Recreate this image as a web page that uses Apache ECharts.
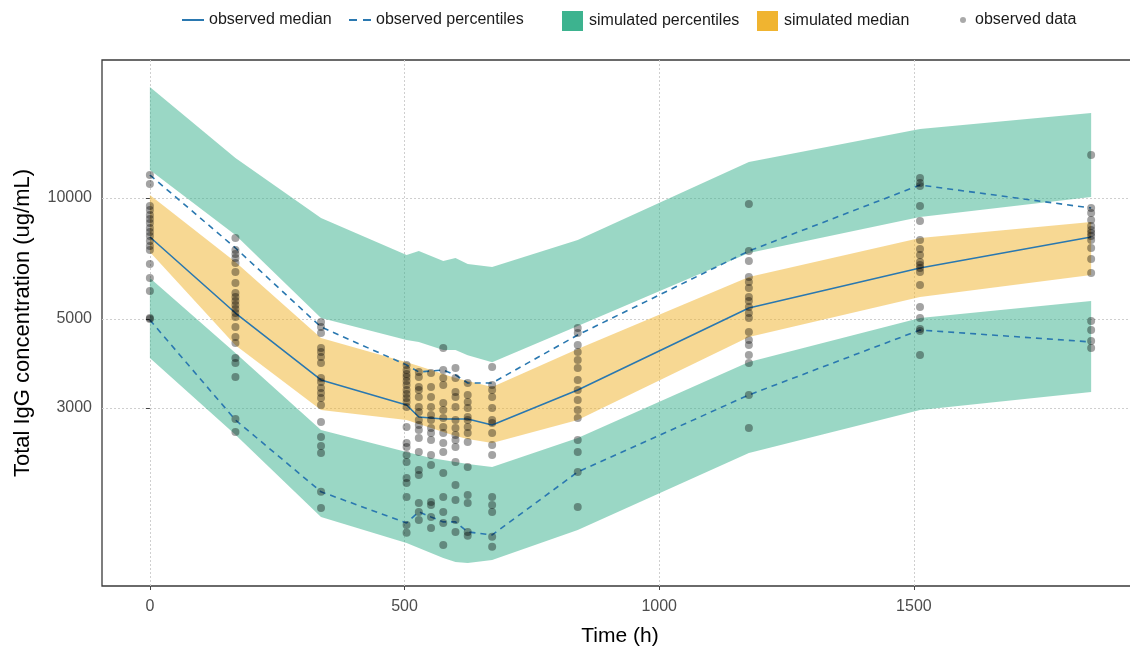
<!DOCTYPE html>
<html><head><meta charset="utf-8">
<script src="https://cdn.jsdelivr.net/npm/echarts@6/dist/echarts.min.js"></script>
<style>html,body{margin:0;padding:0;background:#fff}#c{width:1130px;height:648px}</style>
</head><body><div id="c"></div>
<script>
// Time points (h)
const times = [0,168,336,504,528,552,576,600,624,672,840,1176,1512,1848];
// Simulated 95th percentile band (CI)
const simHiTop = [18900,12580,8920,7210,7380,7170,6970,7090,6850,6730,7860,12290,14850,16280];
const simHiBot = [11740,8090,5025,4430,4380,4280,4180,4180,4060,3900,4800,7290,8970,10060];
// Simulated median band (CI)
const simMedTop = [10170,6930,4480,3900,3815,3730,3645,3560,3500,3380,4207,6355,7950,8715];
const simMedBot = [7340,4300,2965,2800,2736,2674,2613,2554,2510,2453,2800,4506,5666,6429];
// Simulated 5th percentile band (CI)
const simLoTop = [6320,4110,2643,2330,2290,2250,2225,2200,2175,2138,2525,3904,5025,5537];
const simLoBot = [3995,2570,1605,1383,1344,1306,1269,1240,1233,1254,1490,2317,2965,3287];
// Observed median and percentiles
const obsMedian = [7996,5170,3521,3051,2848,2832,2815,2815,2815,2720,3325,5320,6693,7996];
const obsP95 = [11410,7507,4772,3837,3686,3708,3729,3624,3461,3461,4558,7378,10773,9442];
const obsP05 = [4967,2799,1854,1551,1652,1605,1560,1560,1473,1448,2077,3231,4690,4379];
// Observed data, one list per time point
const obs0 = [11410,10835,9549,9335,9072,8866,8666,8418,8228,8042,7815,7594,7421,6849,6320,5867,5025,4996];
const obs168 = [7950,7421,7252,7088,6889,6540,6141,5800,5666,5537,5412,5289,5170,5053,4772,4506,4354,3995,3882,3583,2815,2613];
const obs336 = [4911,4772,4611,4231,4135,4018,3882,3562,3481,3363,3268,3176,3051,2767,2539,2412,2317,1854,1690];
const obs504 = [3837,3729,3645,3583,3501,3421,3325,3250,3176,3104,3016,2689,2453,2398,2290,2200,2007,1950,1800,1533,1465];
const obs528 = [3686,3583,3382,3325,3194,3016,2931,2799,2720,2643,2525,2330,2101,2042,1739,1652,1578];
const obs552 = [3666,3382,3194,3016,2881,2799,2674,2598,2496,2290,2163,1749,1719,1605,1507];
const obs576 = [4231,3729,3562,3421,3086,2965,2832,2689,2598,2453,2330,2065,1800,1652,1551,1367];
const obs600 = [3772,3562,3287,3194,3016,2799,2674,2569,2496,2398,2200,1928,1769,1578,1473];
const obs624 = [3461,3231,3104,2999,2848,2799,2689,2598,2467,2138,1821,1739,1473,1440];
const obs672 = [3793,3421,3325,3194,2999,2799,2751,2598,2425,2290,1800,1719,1652,1432,1352];
const obs840 = [4745,4611,4304,4135,3949,3772,3521,3325,3139,2965,2832,2496,2330,2077,1700];
const obs1176 = [9662,7378,6967,6355,6176,5966,5666,5537,5350,5170,5025,4637,4429,4304,4064,3882,3231,2674];
const obs1512 = [11215,10898,10711,9549,8766,7860,7464,7211,6927,6808,6693,6540,6069,5350,5025,4718,4664,4064];
const obs1848 = [12800,9442,9176,8815,8517,8324,8181,8042,7860,7507,7047,6503,4939,4690,4404,4231];
const obsByTime = [obs0,obs168,obs336,obs504,obs528,obs552,obs576,obs600,obs624,obs672,obs840,obs1176,obs1512,obs1848];
// Ticks
const xTicks = [0,500,1000,1500];
const yTicks = [3000,5000,10000];

const GREEN = '#3db38f', ORANGE = '#f0b430', BLUE = '#2a78b0';
const FONT = 'Liberation Sans';

function band(name, lo, hi, color) {
  return {
    type: 'custom', name: name, coordinateSystem: 'cartesian2d', silent: true, z: 1,
    itemStyle: {color: color},
    data: [[times[0], hi[0]]],
    renderItem: function (params, api) {
      const pts = [];
      for (let i = 0; i < times.length; i++) pts.push(api.coord([times[i], hi[i]]));
      for (let i = times.length - 1; i >= 0; i--) pts.push(api.coord([times[i], lo[i]]));
      return {type: 'polygon', shape: {points: pts}, style: {fill: color, opacity: 0.52}};
    }
  };
}
const pairs = (ys) => times.map((t, i) => [t, ys[i]]);
const scatterData = [];
obsByTime.forEach((col, i) => col.forEach(v => scatterData.push([times[i], v])));

function leg(item, left, w, h, pad, top) {
  return {
    left: left, top: top, itemWidth: w, itemHeight: h, selectedMode: false,
    textStyle: {fontSize: 16, color: '#1a1a1a', fontFamily: FONT, padding: [0, 0, 0, pad]},
    data: [item]
  };
}

const chart = echarts.init(document.getElementById('c'), null, {renderer: 'canvas'});
chart.setOption({
  animation: false,
  backgroundColor: '#fff',
  textStyle: {fontFamily: FONT},
  grid: {left: 102, top: 60, width: 1036, height: 526, outerBoundsMode: 'none', containLabel: false,
         show: true, borderColor: '#3a3a3a', borderWidth: 1.3, backgroundColor: 'transparent'},
  legend: [
    leg({name: 'observed median', icon: 'path://M0,0h22v2h-22z', itemStyle: {color: BLUE}}, 177, 22, 20, 0, 7),
    leg({name: 'observed percentiles', icon: 'path://M0,0h8v2h-8z M14,0h8v2h-8z', itemStyle: {color: BLUE}}, 344, 22, 20, 0, 7),
    leg({name: 'simulated percentiles', icon: 'rect', itemStyle: {color: GREEN}}, 557, 21, 20, 1, 6),
    leg({name: 'simulated median', icon: 'rect', itemStyle: {color: ORANGE}}, 752, 21, 20, 1, 6),
    leg({name: 'observed data', icon: 'circle', itemStyle: {color: 'rgba(40,40,40,0.5)'}}, 955, 6, 20, 4, 7)
  ],
  xAxis: {
    type: 'value', min: -94, max: 1940,
    name: 'Time (h)', nameLocation: 'middle', nameGap: 40,
    nameTextStyle: {fontSize: 21, color: '#000', fontFamily: FONT},
    axisLine: {show: false},
    axisTick: {show: true, length: 4, lineStyle: {color: '#444'}, customValues: xTicks},
    axisLabel: {customValues: xTicks, fontSize: 16, color: '#4d4d4d', margin: 13, fontFamily: FONT,
      formatter: function (v) { return String(Math.round(v)); }},
    splitLine: {show: true, lineStyle: {color: '#cfcfcf', type: [2, 2], width: 1}}
  },
  yAxis: {
    type: 'log', logBase: 10, min: 1080, max: 22070,
    name: 'Total IgG concentration (ug/mL)', nameLocation: 'middle', nameGap: 68,
    nameTextStyle: {fontSize: 22, color: '#000', fontFamily: FONT},
    axisLine: {show: false},
    axisTick: {show: true, length: 4, lineStyle: {color: '#444'}, customValues: yTicks},
    axisLabel: {customValues: yTicks, fontSize: 16, color: '#4d4d4d', margin: 10, fontFamily: FONT,
      formatter: function (v) { return String(Math.round(v)); }},
    splitLine: {show: true, lineStyle: {color: '#cfcfcf', type: [2, 2], width: 1}},
    minorTick: {show: false}, minorSplitLine: {show: false}
  },
  series: [
    band('simulated percentiles', simHiBot, simHiTop, GREEN),
    band('simulated percentiles', simLoBot, simLoTop, GREEN),
    band('simulated median', simMedBot, simMedTop, ORANGE),
    {type: 'line', name: 'observed median', data: pairs(obsMedian), symbol: 'none', z: 3,
     lineStyle: {color: BLUE, width: 1.6}, itemStyle: {color: BLUE}},
    {type: 'line', name: 'observed percentiles', data: pairs(obsP95), symbol: 'none', z: 3,
     lineStyle: {color: BLUE, width: 1.6, type: [6, 5]}, itemStyle: {color: BLUE}},
    {type: 'line', name: 'observed percentiles', data: pairs(obsP05), symbol: 'none', z: 3,
     lineStyle: {color: BLUE, width: 1.6, type: [6, 5]}, itemStyle: {color: BLUE}},
    {type: 'scatter', name: 'observed data', data: scatterData, symbolSize: 8, z: 4,
     itemStyle: {color: 'rgba(0,0,0,0.45)'}}
  ]
});
</script></body></html>
